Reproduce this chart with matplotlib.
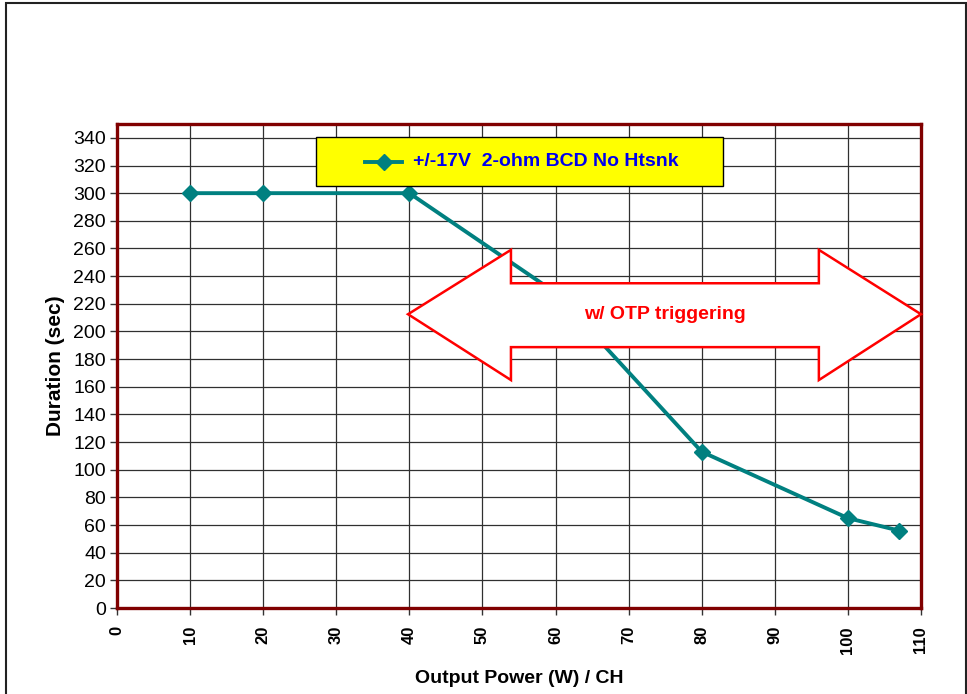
import matplotlib.pyplot as plt
from matplotlib.patches import Polygon, Rectangle
from matplotlib.lines import Line2D

plt.rcParams['font.family'] = ['Liberation Sans', 'DejaVu Sans']

# data
power = [10, 20, 40, 60, 80, 100, 107]
duration = [300, 300, 300, 228, 113, 65, 56]
series_name = '+/-17V  2-ohm BCD No Htsnk'
note = 'w/ OTP triggering'
xticks = list(range(0, 111, 10))
yticks = list(range(0, 341, 20))

fig = plt.figure(figsize=(9.67, 6.94), dpi=100)
# outer chart border
fig.patches.append(Rectangle((6 / 967, -0.01), 960 / 967, 1 - 3 / 694 + 0.01,
                             transform=fig.transFigure, fill=False,
                             edgecolor='#222222', linewidth=1.5))

ax = fig.add_axes([0.121, 0.1239, 0.8314, 0.6974])
ax.plot(power, duration, color='#008080', linewidth=2.8, marker='D',
        markersize=8, zorder=4, clip_on=False)

ax.set_xlim(0, 110)
ax.set_ylim(0, 350)
ax.set_xticks(xticks)
ax.set_yticks(yticks)
ax.set_xticklabels([str(v) for v in xticks], rotation=90, fontsize=12,
                   fontweight='bold')
ax.set_yticklabels([str(v) for v in yticks], fontsize=14)
ax.tick_params(axis='both', direction='out', length=5, width=1, color='#333333')
ax.tick_params(axis='x', pad=8)
ax.tick_params(axis='y', pad=3)
ax.grid(True, color='#303030', linewidth=0.9)
ax.set_axisbelow(True)
for s in ax.spines.values():
    s.set_color('#800000')
    s.set_linewidth(2.4)

ax.set_xlabel('Output Power (W) / CH', fontsize=14, fontweight='bold', labelpad=12)
ax.set_ylabel('Duration (sec)', fontsize=15, fontweight='bold', labelpad=6)

# legend box
ax.add_patch(Rectangle((0.2475, 0.872), 0.5062, 0.101, transform=ax.transAxes,
                       facecolor='#ffff00', edgecolor='black', linewidth=1,
                       zorder=5))
ax.add_line(Line2D([0.308, 0.355], [0.922, 0.922], transform=ax.transAxes,
                   color='#008080', linewidth=2.8, zorder=6))
ax.plot([0.3315], [0.922], transform=ax.transAxes, marker='D', markersize=8,
        color='#008080', zorder=7)
ax.text(0.368, 0.922, series_name, transform=ax.transAxes, color='#0000ee',
        fontsize=14, fontweight='bold', va='center', ha='left', zorder=7)

# double headed arrow
arrow = [(0.362, 0.607), (0.490, 0.740), (0.490, 0.671), (0.873, 0.671),
         (0.873, 0.740), (1.0, 0.607), (0.873, 0.471), (0.873, 0.539),
         (0.490, 0.539), (0.490, 0.471)]
ax.add_patch(Polygon(arrow, closed=True, transform=ax.transAxes,
                     facecolor='white', edgecolor='#ff0000', linewidth=1.8,
                     zorder=8, clip_on=False))
ax.text(0.681, 0.607, note, transform=ax.transAxes, color='#ff0000',
        fontsize=14, fontweight='bold', ha='center', va='center', zorder=9)

fig.savefig('out.png', dpi=100)
